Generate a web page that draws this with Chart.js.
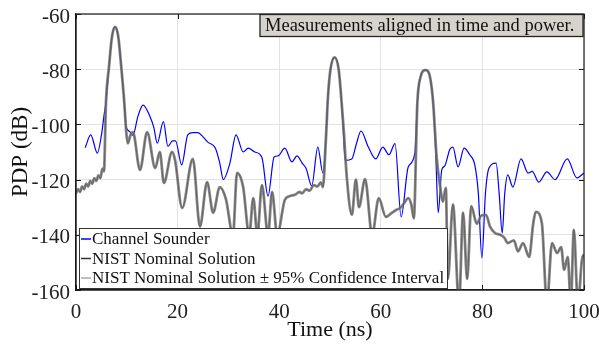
<!DOCTYPE html>
<html>
<head>
<meta charset="utf-8">
<script src="https://cdn.jsdelivr.net/npm/chart.js@4.4.1/dist/chart.umd.min.js"></script>
<style>
  html, body { margin: 0; padding: 0; background: #fff; }
  #wrap { position: relative; width: 599px; height: 349px; }
</style>
</head>
<body>
<div id="wrap"><canvas id="pdpChart" width="599" height="349"></canvas></div>
<script>
// PDP comparison: channel sounder vs NIST nominal solution
const xTicks = [0, 20, 40, 60, 80, 100];
const yTicks = [-160, -140, -120, -100, -80, -60];

const legendLabels = [
  "Channel Sounder",
  "NIST Nominal Solution",
  "NIST Nominal Solution \u00b1 95% Confidence Interval",
];
const noteText = "Measurements aligned in time and power.";

// channel sounder (blue)
const sounderTime = [
  1.8, 2.9, 4.2, 5.0, 5.5, 5.9, 6.5, 7.1, 7.7, 8.3, 8.9, 9.5, 9.9, 10.5, 11.2,
  12.2, 13.2, 14.6, 15.3, 16.0, 17.2, 18.1, 19.0, 19.6, 20.8, 22.0, 23.0, 24.0,
  25.0, 26.0, 27.4, 28.3, 29.0, 30.3, 31.5, 32.9, 33.9, 35.2, 36.6, 37.8, 39.0,
  39.8, 41.1, 42.5, 43.5, 44.5, 45.3, 46.4, 47.6, 48.6, 49.2, 49.6, 50.1, 50.9,
  51.7, 52.2, 52.6, 53.0, 54.3, 55.2, 56.1, 57.5, 59.0, 60.4, 61.6, 62.8, 64.0,
  65.4, 66.7, 67.2, 67.8, 68.8, 69.7, 70.3, 70.8, 71.3, 72.0, 72.6, 73.6, 74.2,
  75.2, 76.4, 77.5, 78.5, 79.2, 79.9, 80.6, 81.3, 82.7, 83.3, 83.9, 84.4, 85.0,
  86.0, 87.6, 89.0, 89.8, 91.1, 92.7, 94.3, 96.7, 98.6, 100,
];
const sounderPdp = [
  -108.5, -103.8, -110.4, -104, -97, -92, -79, -68, -64.7, -68, -79, -92, -101,
  -102.5, -104, -97, -93, -97.3, -101, -106.8, -99, -108, -106, -106, -114.7,
  -103.8, -103, -103, -104.5, -106.5, -108.5, -114, -120, -114, -103.8, -110,
  -108.6, -110, -112, -126, -111.8, -111.4, -108.6, -113.6, -111.4, -114, -116,
  -122.3, -108.2, -117.6, -105, -90, -80, -75.7, -80, -90, -102, -113, -112.5,
  -107, -102.4, -108, -112.5, -108.2, -111, -107, -133.5, -115.4, -110.4, -92,
  -83, -80.3, -83, -92, -110, -132, -116.5, -115, -109, -108.2, -115.4, -108.6,
  -111, -114.7, -125, -148.4, -125, -115.8, -114, -125, -139.4, -125, -118.3,
  -122.7, -112.5, -117.6, -117, -120.9, -117.2, -120, -112.5, -119.4, -117.6,
];

// NIST nominal solution (thin black under its grey confidence band)
const nistTime = [
  0, 0.4, 0.8, 1.2, 1.6, 2.0, 2.4, 2.8, 3.2, 3.6, 4.0, 4.4, 4.8, 5.2, 5.5, 5.9,
  6.5, 7.1, 7.7, 8.3, 8.9, 9.5, 9.9, 10.2, 10.7, 11.2, 12.6, 14.0, 15.6, 16.5,
  17.3, 18.9, 19.5, 20.9, 23.0, 24.4, 25.8, 27.0, 28.3, 29.5, 30.9, 31.7, 32.9,
  34.1, 34.9, 35.7, 36.6, 37.8, 38.6, 39.6, 41.1, 42.0, 43.1, 44.0, 44.5, 45.3,
  46.0, 46.8, 47.5, 48.2, 48.6, 49.2, 49.6, 50.1, 50.9, 51.7, 52.2, 52.7, 53.3,
  54.3, 55.1, 55.7, 56.9, 58.3, 59.6, 61.0, 62.2, 63.0, 63.8, 64.6, 65.4, 66.0,
  66.5, 67.2, 67.8, 68.8, 69.7, 70.3, 71.0, 71.7, 72.2, 72.8, 73.2, 74.2, 75.4,
  76.2, 77.0, 77.8, 78.9, 79.8, 80.7, 81.5, 82.5, 83.5, 84.3, 85.0, 86.2, 87.0,
  88.0, 89.2, 90.0, 90.5, 91.7, 92.7, 93.7, 94.7, 95.5, 96.1, 96.8, 97.4, 98.0,
  98.8, 99.6, 100,
];
const nistPdp = [
  -125, -123.5, -124.5, -122.5, -123.5, -121.5, -122.5, -120.5, -121.5, -119.5,
  -120.5, -118.5, -119.5, -116, -117, -92, -79, -68, -64.7, -68, -79, -92, -103,
  -106.9, -104, -102.8, -116.5, -102.8, -115.8, -110, -121.2, -110, -113,
  -130.3, -112.5, -137, -120.9, -132, -122.7, -127, -140, -117.6, -122.7, -140,
  -126.7, -140, -122, -140, -124.5, -140, -127.4, -126, -125.5, -124.5, -125,
  -123.5, -124, -122, -122.5, -121, -122.7, -105, -90, -80, -75.7, -80, -90,
  -102, -119, -132.8, -120, -130, -119.8, -140, -126.7, -133.5, -132, -131,
  -130.3, -128.5, -126.7, -129, -134, -92, -83, -80.3, -83, -92, -112, -122.7,
  -128, -123, -156, -129, -165, -132, -156, -129.6, -136, -133, -132.8, -137,
  -139.4, -140, -141, -143, -142, -146, -143, -148, -136, -131.7, -135.7, -165,
  -143, -146.6, -144.5, -152.7, -148, -165, -138.2, -165, -149, -147,
];

const toPoints = (xs, ys) => xs.map((x, i) => ({ x: x, y: ys[i] }));

const serif = "'Liberation Serif', 'Times New Roman', serif";

// legend box, note box, inward ticks and the top/right frame
const extras = {
  id: "extras",
  afterDatasetsDraw(chart) {
    const ctx = chart.ctx;
    const area = chart.chartArea;
    const xs = chart.scales.x;
    const ys = chart.scales.y;
    ctx.save();

    // frame
    ctx.strokeStyle = "#1a1a1a";
    ctx.lineWidth = 1.2;
    ctx.strokeRect(area.left, area.top, area.right - area.left, area.bottom - area.top);

    // inward ticks on all four sides
    ctx.lineWidth = 1;
    xTicks.forEach((t) => {
      const px = Math.round(xs.getPixelForValue(t)) + 0.5;
      ctx.beginPath();
      ctx.moveTo(px, area.bottom); ctx.lineTo(px, area.bottom - 5);
      ctx.moveTo(px, area.top); ctx.lineTo(px, area.top + 5);
      ctx.stroke();
    });
    yTicks.forEach((t) => {
      const py = Math.round(ys.getPixelForValue(t)) + 0.5;
      ctx.beginPath();
      ctx.moveTo(area.left, py); ctx.lineTo(area.left + 5, py);
      ctx.moveTo(area.right, py); ctx.lineTo(area.right - 5, py);
      ctx.stroke();
    });

    // legend box (bottom left, inside the axes)
    const lx = area.left + 3, ly = area.bottom - 62, lw = 368, lh = 60;
    ctx.fillStyle = "#fff";
    ctx.fillRect(lx, ly, lw, lh);
    ctx.strokeStyle = "#333";
    ctx.lineWidth = 1;
    ctx.strokeRect(lx + 0.5, ly + 0.5, lw, lh);
    const swatch = ["#0000ff", "#333333", "#aaaaaa"];
    ctx.font = "17px " + serif;
    ctx.textBaseline = "middle";
    legendLabels.forEach((label, i) => {
      const cy = ly + 11 + i * 19.5;
      ctx.strokeStyle = swatch[i];
      ctx.lineWidth = 1.5;
      ctx.beginPath();
      ctx.moveTo(lx + 2, cy); ctx.lineTo(lx + 12, cy);
      ctx.stroke();
      ctx.fillStyle = "#111";
      ctx.fillText(label, lx + 13, cy + 1);
    });

    // note box (top right)
    const nx = 260, ny = area.top + 0.5, nw = area.right - 260 - 1, nh = 22;
    ctx.fillStyle = "#d6d3cc";
    ctx.fillRect(nx, ny, nw, nh);
    ctx.strokeStyle = "#222";
    ctx.lineWidth = 1.3;
    ctx.strokeRect(nx, ny, nw, nh);
    ctx.fillStyle = "#111";
    ctx.font = "18.5px " + serif;
    ctx.textAlign = "left";
    ctx.fillText(noteText, nx + 5, ny + nh / 2 + 1);

    ctx.restore();
  },
};

const ctx = document.getElementById("pdpChart").getContext("2d");

const pdpChart = new Chart(ctx, {
  type: "line",
  data: {
    datasets: [
      {
        label: legendLabels[2],
        data: toPoints(nistTime, nistPdp),
        borderColor: "rgba(112,112,112,0.82)",
        borderWidth: 2.8,
        pointRadius: 0,
        cubicInterpolationMode: "monotone",
      },
      {
        label: legendLabels[1],
        data: toPoints(nistTime, nistPdp),
        borderColor: "#111111",
        borderWidth: 0.9,
        pointRadius: 0,
        cubicInterpolationMode: "monotone",
      },
      {
        label: legendLabels[0],
        data: toPoints(sounderTime, sounderPdp),
        borderColor: "#0000ff",
        borderWidth: 1.2,
        pointRadius: 0,
        cubicInterpolationMode: "monotone",
      },
    ],
  },
  options: {
    responsive: false,
    animation: false,
    layout: { padding: { left: 0, right: 15, top: 14, bottom: 0 } },
    plugins: {
      legend: { display: false },
      tooltip: { enabled: false },
    },
    scales: {
      x: {
        type: "linear",
        min: 0,
        max: 100,
        afterFit: (scale) => {
          scale.height = 59;
          scale.paddingLeft = 0;
          scale.paddingRight = 0;
        },
        afterBuildTicks: (scale) => { scale.ticks = xTicks.map((v) => ({ value: v })); },
        grid: { color: "#e3e3e3", drawTicks: false },
        border: { color: "#1a1a1a", width: 1.2 },
        ticks: { color: "#222", font: { family: serif, size: 21 }, padding: 10 },
        title: {
          display: true,
          text: "Time (ns)",
          color: "#111",
          font: { family: serif, size: 22 },
          padding: { top: 0, bottom: 6 },
        },
      },
      y: {
        min: -160,
        max: -60,
        afterFit: (scale) => {
          scale.width = 76;
          scale.paddingTop = 0;
          scale.paddingBottom = 0;
        },
        afterBuildTicks: (scale) => { scale.ticks = yTicks.map((v) => ({ value: v })); },
        grid: { color: "#e3e3e3", drawTicks: false },
        border: { color: "#1a1a1a", width: 1.2 },
        ticks: { color: "#222", font: { family: serif, size: 21 }, padding: 6, labelOffset: 3 },
        title: {
          display: true,
          text: "PDP (dB)",
          color: "#111",
          font: { family: serif, size: 23 },
          padding: { top: 7, bottom: 0 },
        },
      },
    },
  },
  plugins: [extras],
});
</script>
</body>
</html>
